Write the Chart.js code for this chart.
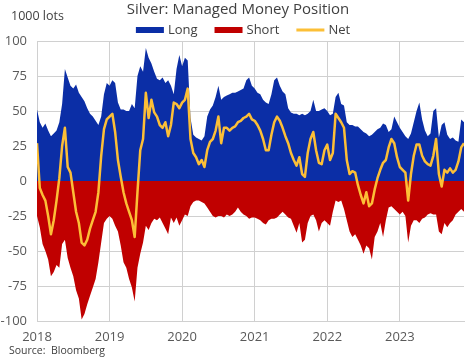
<!DOCTYPE html>
<html>
<head>
<meta charset="utf-8">
<script src="https://cdn.jsdelivr.net/npm/chart.js@4/dist/chart.umd.min.js"></script>
<style>
html,body{margin:0;padding:0;background:#ffffff;}
#wrap{width:474px;height:359px;}
</style>
</head>
<body>
<div id="wrap"><canvas id="c" width="474" height="359"></canvas></div>
<script>
// ---- data (1000 lots), two-week spacing starting Jan 2018 ----
const startYear = 2018;
const stepYears = 1 / 26;
const yearTicks = [2018, 2019, 2020, 2021, 2022, 2023];
const seriesNames = ['Long', 'Short', 'Net'];

const longPos = [
  51,42,38,41,36,32,34,36,42,55,80,74,68,66,69,63,60,57,52,48,46,43,40,46,62,70,
  68,72,70,56,51,51,50,50,55,52,75,82,78,95,88,84,78,73,72,74,70,72,68,62,80,90,
  82,88,86,45,33,31,30,29,32,46,51,54,60,68,58,60,61,62,63,63,64,65,66,72,74,68,
  66,63,62,58,56,55,62,72,74,68,64,62,52,49,48,48,47,48,47,48,50,58,50,50,51,52,
  50,47,48,60,63,55,54,42,40,40,39,39,37,35,34,32,33,35,37,38,41,40,35,37,46,42,
  38,35,32,30,34,42,50,56,44,36,32,34,50,52,31,40,42,33,30,31,29,28,44,42
];
const shortPos = [
  -25,-33,-45,-50,-56,-68,-65,-60,-62,-45,-42,-55,-62,-68,-78,-84,-99,-95,-88,-82,-76,-70,-58,-44,-30,-27,
  -25,-27,-32,-36,-46,-58,-62,-70,-76,-86,-62,-52,-44,-32,-35,-30,-27,-28,-26,-30,-34,-38,-26,-30,-26,-32,
  -28,-24,-25,-18,-15,-14,-14,-15,-16,-19,-22,-25,-26,-25,-25,-26,-24,-25,-24,-22,-19,-22,-24,-25,-27,-26,
  -26,-27,-28,-30,-31,-28,-27,-27,-26,-24,-22,-24,-26,-27,-32,-37,-30,-44,-42,-30,-25,-24,-28,-36,-30,-28,
  -30,-32,-22,-14,-15,-14,-20,-28,-36,-40,-38,-42,-46,-52,-46,-48,-56,-40,-36,-30,-40,-28,-19,-18,-20,-22,
  -24,-22,-25,-44,-32,-28,-28,-30,-27,-26,-24,-23,-24,-24,-36,-38,-30,-33,-30,-28,-24,-22,-20,-22
];
const netPos = [
  27,-5,-10,-14,-25,-38,-28,-14,2,25,38,10,6,-8,-22,-30,-44,-46,-42,-34,-28,-22,-8,18,37,44,
  46,48,35,15,3,-8,-16,-22,-28,-40,-8,22,30,63,45,58,49,46,40,38,42,32,40,56,55,52,
  56,58,66,30,20,17,12,15,10,22,28,30,36,46,27,38,38,36,38,39,42,43,45,46,48,44,
  43,40,36,30,22,22,33,42,46,43,38,32,27,20,15,11,17,5,3,20,30,35,22,13,12,22,
  26,15,20,48,45,42,38,15,5,7,6,-3,-10,-16,-8,-18,-16,-6,2,8,13,15,24,30,27,17,
  10,8,6,-14,5,18,26,26,18,14,12,11,18,30,5,-4,8,6,9,6,8,14,24,27
];

const dates = longPos.map((_, i) => startYear + i * stepYears);
const toXY = arr => arr.map((v, i) => ({ x: dates[i], y: v }));

const BLUE = '#0B2EA6';
const RED = '#C00000';
const YELLOW = '#FCBF37';
const GRID = '#d0d0d0';
const TEXT = '#404040';
const TICK = '#595959';
const FONT = '"Open Sans", "Liberation Sans", sans-serif';

const headerPlugin = {
  id: 'headerTexts',
  afterDraw(chart) {
    const ctx = chart.ctx;
    ctx.save();
    ctx.fillStyle = TEXT;
    ctx.textBaseline = 'middle';
    // title
    ctx.font = '15px ' + FONT;
    ctx.textAlign = 'center';
    ctx.fillText('Silver: Managed Money Position', 238, 10);
    // unit label
    ctx.font = '12.5px ' + FONT;
    ctx.textAlign = 'left';
    ctx.fillText('1000 lots', 11, 16);
    // legend
    const colors = [BLUE, RED, YELLOW];
    ctx.font = '13px ' + FONT;
    const boxW = 28, gap = 4, spacing = 17;
    const widths = seriesNames.map(n => boxW + gap + ctx.measureText(n).width);
    const total = widths.reduce((a, b) => a + b, 0) + spacing * (seriesNames.length - 1);
    let x = 243 - total / 2;
    const y = 30;
    seriesNames.forEach((n, i) => {
      ctx.fillStyle = colors[i];
      if (i === 2) ctx.fillRect(x, y - 1.5, boxW, 3);
      else ctx.fillRect(x, y - 3, boxW, 6);
      ctx.fillStyle = TEXT;
      ctx.fillText(n, x + boxW + gap, y);
      x += widths[i] + spacing;
    });
    // source
    ctx.font = '10.5px ' + FONT;
    ctx.fillText('Source:  Bloomberg', 9, 351);
    ctx.restore();
  }
};

new Chart(document.getElementById('c'), {
  type: 'line',
  data: {
    datasets: [
      { label: seriesNames[0], data: toXY(longPos), backgroundColor: BLUE, borderColor: BLUE,
        borderWidth: 0, fill: 'origin', pointRadius: 0, tension: 0, order: 2 },
      { label: seriesNames[1], data: toXY(shortPos), backgroundColor: RED, borderColor: RED,
        borderWidth: 0, fill: 'origin', pointRadius: 0, tension: 0, order: 3 },
      { label: seriesNames[2], data: toXY(netPos), borderColor: YELLOW, backgroundColor: YELLOW,
        borderWidth: 2.5, borderJoinStyle: 'round', fill: false, pointRadius: 0, tension: 0, order: 1 }
    ]
  },
  options: {
    responsive: false,
    animation: false,
    devicePixelRatio: 1,
    layout: { padding: { left: 0, right: 10, top: 41, bottom: 14 } },
    scales: {
      x: {
        type: 'linear',
        min: yearTicks[0],
        max: dates[dates.length - 1],
        afterBuildTicks: s => { s.ticks = yearTicks.map(v => ({ value: v })); },
        afterFit: s => { s.height = 24; },
        ticks: { color: TICK, font: { family: FONT, size: 13 }, padding: 8, maxRotation: 0,
                 callback: v => String(v) },
        grid: { color: GRID, drawTicks: false, lineWidth: 1 },
        border: { color: GRID }
      },
      y: {
        min: -100, max: 100,
        afterFit: s => { s.width = 37; },
        ticks: { stepSize: 25, color: TICK, font: { family: FONT, size: 13 }, padding: 10 },
        grid: { color: GRID, drawTicks: false, lineWidth: 1 },
        border: { color: GRID }
      }
    },
    plugins: {
      legend: { display: false },
      title: { display: false },
      tooltip: { enabled: false }
    }
  },
  plugins: [headerPlugin]
});
</script>
</body>
</html>
